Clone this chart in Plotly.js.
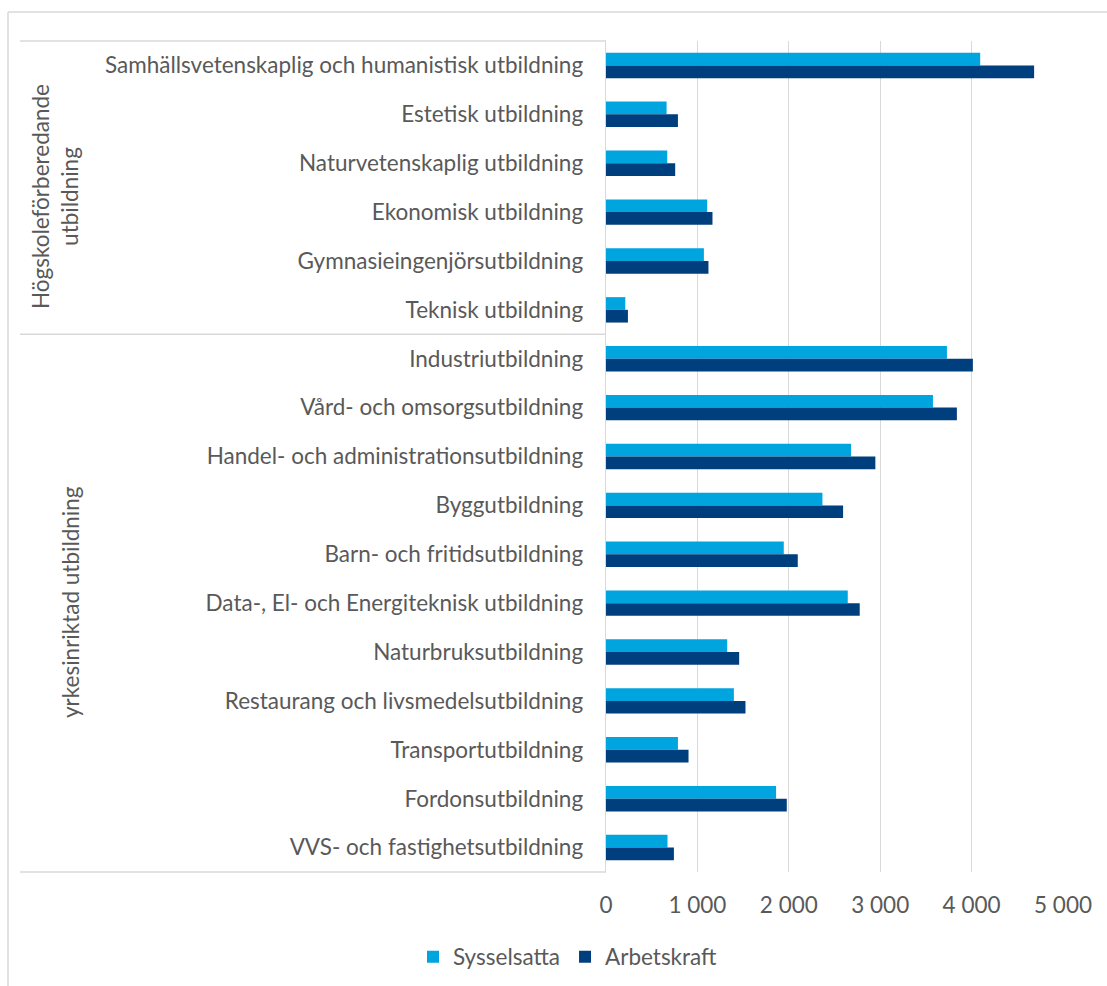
<!DOCTYPE html>
<html>
<head>
<meta charset="utf-8">
<script src="https://cdn.plot.ly/plotly-3.0.1.min.js"></script>
<style>html,body{margin:0;padding:0;background:#fff;}#chart{width:1107px;height:986px;}</style>
</head>
<body>
<div id="chart"></div>
<script>
const categories = [
  "Samhällsvetenskaplig och humanistisk utbildning",
  "Estetisk utbildning",
  "Naturvetenskaplig utbildning",
  "Ekonomisk utbildning",
  "Gymnasieingenjörsutbildning",
  "Teknisk utbildning",
  "Industriutbildning",
  "Vård- och omsorgsutbildning",
  "Handel- och administrationsutbildning",
  "Byggutbildning",
  "Barn- och fritidsutbildning",
  "Data-, El- och Energiteknisk utbildning",
  "Naturbruksutbildning",
  "Restaurang och livsmedelsutbildning",
  "Transportutbildning",
  "Fordonsutbildning",
  "VVS- och fastighetsutbildning"
];
const sysselsatta = [4094, 663, 670, 1107, 1071, 211, 3730, 3577, 2681, 2368, 1945, 2645, 1326, 1399, 787, 1861, 673];
const arbetskraft = [4684, 787, 757, 1165, 1121, 240, 4014, 3839, 2947, 2594, 2098, 2776, 1457, 1526, 903, 1978, 743];
const seriesNames = ["Sysselsatta", "Arbetskraft"];
const groupLabels = ["Högskoleförberedande<br>utbildning", "yrkesinriktad utbildning"];
const xTickVals = [0, 1000, 2000, 3000, 4000, 5000];
const xTickText = ["0", "1 000", "2 000", "3 000", "4 000", "5 000"];

const FONT = "Lato, 'Open Sans', sans-serif";
const FS = 22.5;
const TXT = "#595959";
const GRID = "#d9d9d9";

// plot area in px: left 606, right 1063, top 41, bottom 872
const W = 1107, H = 986, L = 606, R = 1063, T = 41, B = 872;
const px = x => (x - L) / (R - L);
const py = y => (B - y) / (B - T);

const traces = [
  {type: "bar", orientation: "h", name: seriesNames[0], y: categories, x: sysselsatta,
   marker: {color: "#00A5E0"}, hoverinfo: "x+y"},
  {type: "bar", orientation: "h", name: seriesNames[1], y: categories, x: arbetskraft,
   marker: {color: "#003F7D"}, hoverinfo: "x+y"}
];

const lineStyle = {color: GRID, width: 1.5};
const shapes = [
  // outer chart frame (left & top)
  {type: "line", xref: "paper", yref: "paper", x0: px(8), x1: px(8), y0: py(12), y1: py(H + 5), line: lineStyle},
  {type: "line", xref: "paper", yref: "paper", x0: px(8), x1: px(W + 5), y0: py(12), y1: py(12), line: lineStyle},
  // group table lines
  {type: "line", xref: "paper", yref: "paper", x0: px(20), x1: 0, y0: 1, y1: 1, line: lineStyle},
  {type: "line", xref: "paper", yref: "paper", x0: px(20), x1: 0, y0: 11 / 17, y1: 11 / 17, line: lineStyle},
  {type: "line", xref: "paper", yref: "paper", x0: px(20), x1: 0, y0: 0, y1: 0, line: lineStyle}
];

const annotations = [
  {xref: "paper", yref: "paper", x: px(55), y: py(197), text: groupLabels[0], textangle: -90,
   showarrow: false, xanchor: "center", yanchor: "middle", font: {family: FONT, size: FS, color: TXT}},
  {xref: "paper", yref: "paper", x: px(70), y: py(602), text: groupLabels[1], textangle: -90,
   showarrow: false, xanchor: "center", yanchor: "middle", font: {family: FONT, size: FS, color: TXT}}
];

const layout = {
  width: W, height: H,
  margin: {l: L, r: W - R, t: T, b: H - B, pad: 0, autoexpand: false},
  paper_bgcolor: "#ffffff", plot_bgcolor: "#ffffff",
  font: {family: FONT, size: FS, color: TXT},
  barmode: "group", bargap: 0.48, bargroupgap: 0,
  xaxis: {range: [0, 5000], tickvals: xTickVals, ticktext: xTickText, showgrid: true, gridcolor: GRID, gridwidth: 1.4,
          zeroline: false, showline: false, ticks: "", ticklabelstandoff: 17, tickfont: {family: FONT, size: FS, color: TXT},
          automargin: false, fixedrange: true},
  yaxis: {type: "category", autorange: "reversed", showgrid: false, zeroline: false, showline: true, linecolor: GRID, linewidth: 1.4,
          ticks: "", ticklabelstandoff: 17, tickfont: {family: FONT, size: FS, color: TXT}, automargin: false, fixedrange: true},
  legend: {orientation: "h", x: px(568), xanchor: "center", yref: "container", y: (H - 957) / H, yanchor: "middle",
           font: {family: FONT, size: FS, color: TXT}, traceorder: "normal", itemclick: false},
  shapes: shapes,
  annotations: annotations,
  showlegend: true
};

Plotly.newPlot("chart", traces, layout, {displayModeBar: false, staticPlot: true});
</script>
</body>
</html>
